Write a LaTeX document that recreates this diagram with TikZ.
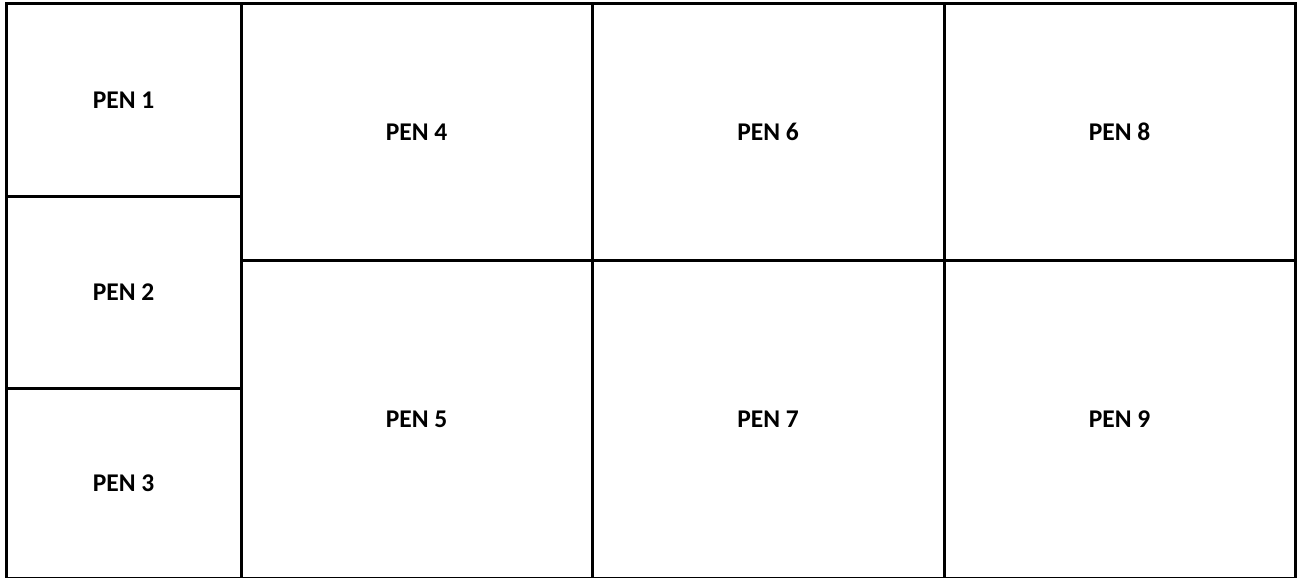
\documentclass[tikz,border=0pt]{standalone}
\usepackage{fontspec}
\setmainfont{Carlito}
\begin{document}
\begin{tikzpicture}[x=1pt,y=-1pt,
  cell/.style={draw=black, line width=3pt, inner sep=0pt, font=\bfseries\fontsize{25.5}{28}\selectfont, anchor=north west}]
\useasboundingbox (0,0) rectangle (1301,578);
\node[cell, minimum width=235pt, minimum height=192pt] (pen1) at (4.5,2.5) {PEN 1};
\node[cell, minimum width=235pt, minimum height=192pt] (pen2) at (4.5,194.5) {PEN 2};
\node[cell, minimum width=235pt, minimum height=190pt] (pen3) at (4.5,386.5) {\raisebox{-2.5pt}{PEN 3}};
\node[cell, minimum width=351pt, minimum height=256pt] (pen4) at (239.5,2.5) {PEN 4};
\node[cell, minimum width=351pt, minimum height=318pt] (pen5) at (239.5,258.5) {PEN 5};
\node[cell, minimum width=352pt, minimum height=256pt] (pen6) at (590.5,2.5) {PEN 6};
\node[cell, minimum width=352pt, minimum height=318pt] (pen7) at (590.5,258.5) {PEN 7};
\node[cell, minimum width=351pt, minimum height=256pt] (pen8) at (942.5,2.5) {PEN 8};
\node[cell, minimum width=351pt, minimum height=318pt] (pen9) at (942.5,258.5) {PEN 9};
\end{tikzpicture}
\end{document}
